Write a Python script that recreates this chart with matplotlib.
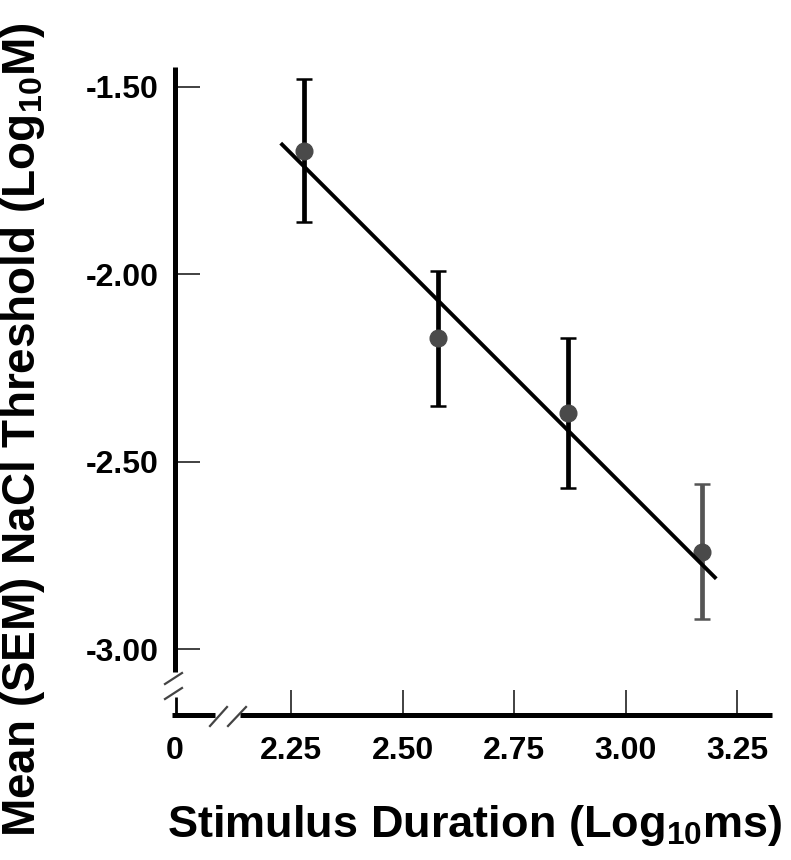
import matplotlib
matplotlib.use("Agg")
import matplotlib.pyplot as plt
import numpy as np

# ---------------------------------------------------------------------------
# data
# ---------------------------------------------------------------------------
duration_log = [2.28, 2.58, 2.87, 3.17]
threshold_mean = [-1.67, -2.17, -2.37, -2.74]
threshold_sem = [0.19, 0.18, 0.20, 0.18]
bar_colors = ["black", "black", "black", "#555555"]

fit_range = [2.23, 3.20]
fit_slope = -1.19
fit_intercept = 1.00

y_ticks = [-1.50, -2.00, -2.50, -3.00]
x_ticks = [2.25, 2.50, 2.75, 3.00, 3.25]
x_zero = 1.99  # where the "0" of the broken axis sits

plt.rcParams["font.family"] = ["Liberation Sans", "DejaVu Sans"]
plt.rcParams["font.weight"] = "bold"
plt.rcParams["mathtext.default"] = "regular"

fig = plt.figure(figsize=(7.91, 8.6), dpi=100)
ax = fig.add_axes([175 / 791, 1 - 715 / 860, 597 / 791, 648 / 860])
ax.set_xlim(x_zero, 3.328)
ax.set_ylim(-3.175, -1.447)
for s in ax.spines.values():
    s.set_visible(False)

# points + error bars
for xi, yi, ei, c in zip(duration_log, threshold_mean, threshold_sem, bar_colors):
    ax.errorbar(xi, yi, yerr=ei, fmt="none", ecolor=c, elinewidth=3.4,
                capsize=6, capthick=1.8, zorder=2)
ax.plot(duration_log, threshold_mean, "o", color="#4a4a4a", ms=12, zorder=3)

# regression line
fx = np.array(fit_range)
ax.plot(fx, fit_intercept + fit_slope * fx, color="black", lw=2.8, zorder=4)

# ticks
ax.set_yticks(y_ticks)
ax.set_yticklabels([f"{v:.2f}" for v in y_ticks])
ax.set_xticks([x_zero] + x_ticks)
ax.set_xticklabels(["0"] + [f"{v:.2f}" for v in x_ticks])
ax.tick_params(direction="in", length=18, width=1.3, color="#333333",
               labelsize=23, pad=12)
ax.tick_params(axis="x", pad=15)
ax.xaxis.get_major_ticks()[0].tick1line.set_visible(False)


# hand-drawn axes with breaks (pixel positions -> axes fraction)
def fx_(px):
    return (px - 175) / 597


def fy_(py):
    return (715 - py) / 648


axis_kw = dict(transform=ax.transAxes, clip_on=False, color="black",
               solid_capstyle="butt", zorder=5)
ax.plot([fx_(175), fx_(175)], [fy_(67), fy_(672)], lw=3.6, **axis_kw)
ax.plot([fx_(176), fx_(176)], [fy_(697), fy_(717)], lw=2.0, **axis_kw)
ax.plot([fx_(172), fx_(215)], [fy_(715), fy_(715)], lw=3.6, **axis_kw)
ax.plot([fx_(240), fx_(772)], [fy_(715), fy_(715)], lw=3.6, **axis_kw)

brk_kw = dict(transform=ax.transAxes, clip_on=False, color="#444444",
              lw=1.6, zorder=5)
ax.plot([fx_(165), fx_(182)], [fy_(684), fy_(673)], **brk_kw)
ax.plot([fx_(165), fx_(182)], [fy_(699), fy_(688)], **brk_kw)
ax.plot([fx_(210), fx_(227)], [fy_(726), fy_(707)], **brk_kw)
ax.plot([fx_(228), fx_(246)], [fy_(726), fy_(707)], **brk_kw)

# axis labels
fig.text(475 / 791, 1 - 826 / 860, r"Stimulus Duration (Log$_{10}$ms)",
         ha="center", va="center", fontsize=32.5, fontweight="bold")
fig.text(23 / 791, 0.5, r"Mean (SEM) NaCl Threshold (Log$_{10}$M)",
         ha="center", va="center", rotation=90, fontsize=33, fontweight="bold")

fig.savefig("out.png", dpi=100)
